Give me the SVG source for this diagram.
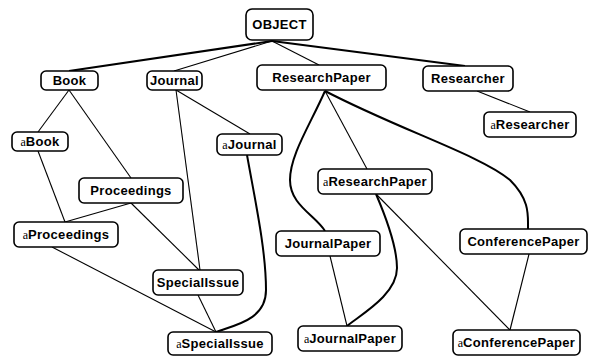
<svg xmlns="http://www.w3.org/2000/svg" width="589" height="356" viewBox="0 0 589 356">
  <style>
    .box { fill: #fff; stroke: #000; stroke-width: 1.6; }
    .lbl { font-family: "Liberation Sans", Arial, sans-serif; font-size: 13px; font-weight: bold; letter-spacing: 0.3px; text-anchor: middle; fill: #000; }
    .pre { font-family: "Liberation Serif", "Times New Roman", serif; font-size: 12px; font-weight: normal; letter-spacing: 0; }
    .thin { fill: none; stroke: #000; stroke-width: 1.1; }
    .thick { fill: none; stroke: #000; stroke-width: 2; }
  </style>
  <rect width="589" height="356" fill="#fff"/>

  <g id="connectors">
    <!-- class hierarchy -->
    <path class="thick" d="M272 41 L69 71" stroke-width="1.5"/>
    <path class="thin" d="M272 41 L174 71" stroke-width="1.3"/>
    <path class="thin" d="M272 41 L319 65"/>
    <path class="thick" d="M272 41 L465 66" stroke-width="1.5"/>
    <path class="thin" d="M69 90 L38 132"/>
    <path class="thin" d="M69 90 L131 178"/>
    <path class="thin" d="M38 151 L65 222"/>
    <path class="thin" d="M131 203 L65 222"/>
    <path class="thin" d="M131 203 L199 270"/>
    <path class="thin" d="M52 247 L216 332"/>
    <path class="thin" d="M176 90 L200 270"/>
    <path class="thin" d="M176 90 L250 134"/>
    <path class="thin" d="M198 295 L216 332"/>
    <!-- instance links -->
    <path class="thick" d="M247 155 C255 200 266 250 266 290 C266 320 235 325 216 332"/>
    <path class="thick" d="M325 91 C310 125 290 155 290 180 C290 205 315 215 325 231"/>
    <path class="thin" d="M325 91 L367 169"/>
    <path class="thick" d="M325 91 C400 130 480 155 510 180 C530 200 528 215 528 229"/>
    <path class="thick" d="M376 194 C385 215 397 245 397 268 C397 295 360 315 347 326"/>
    <path class="thin" d="M376 194 L510 330"/>
    <path class="thin" d="M330 256 L347 326"/>
    <path class="thin" d="M529 254 L510 330"/>
    <path class="thin" d="M477 91 L530 112"/>
  </g>

  <g id="OBJECT"><rect class="box" x="246" y="9" width="67" height="31" rx="6"/><text class="lbl" x="279.5" y="29" font-size="12">OBJECT</text></g>
  <g id="Book"><rect class="box" x="41" y="71" width="57" height="19" rx="5"/><text class="lbl" x="69.5" y="85">Book</text></g>
  <g id="Journal"><rect class="box" x="147" y="71" width="55" height="19" rx="5"/><text class="lbl" x="174.5" y="85">Journal</text></g>
  <g id="ResearchPaper"><rect class="box" x="257" y="65" width="129" height="25" rx="5"/><text class="lbl" x="321.5" y="82">ResearchPaper</text></g>
  <g id="Researcher"><rect class="box" x="423" y="66" width="90" height="25" rx="5"/><text class="lbl" x="468" y="83">Researcher</text></g>
  <g id="aBook"><rect class="box" x="12" y="132" width="56" height="19" rx="5"/><text class="lbl" x="40" y="146"><tspan class="pre">a</tspan>Book</text></g>
  <g id="aJournal"><rect class="box" x="217" y="134" width="65" height="21" rx="5"/><text class="lbl" x="249.5" y="149"><tspan class="pre">a</tspan>Journal</text></g>
  <g id="aResearcher"><rect class="box" x="484" y="112" width="92" height="25" rx="5"/><text class="lbl" x="530" y="129"><tspan class="pre">a</tspan>Researcher</text></g>
  <g id="Proceedings"><rect class="box" x="79" y="178" width="104" height="25" rx="5"/><text class="lbl" x="131" y="195">Proceedings</text></g>
  <g id="aProceedings"><rect class="box" x="14" y="222" width="104" height="25" rx="5"/><text class="lbl" x="66" y="239"><tspan class="pre">a</tspan>Proceedings</text></g>
  <g id="aResearchPaper"><rect class="box" x="318" y="169" width="114" height="25" rx="5"/><text class="lbl" x="375" y="186"><tspan class="pre">a</tspan>ResearchPaper</text></g>
  <g id="JournalPaper"><rect class="box" x="276" y="231" width="104" height="25" rx="5"/><text class="lbl" x="328" y="248">JournalPaper</text></g>
  <g id="ConferencePaper"><rect class="box" x="460" y="229" width="127" height="25" rx="5"/><text class="lbl" x="523.5" y="246">ConferencePaper</text></g>
  <g id="SpecialIssue"><rect class="box" x="153" y="270" width="90" height="25" rx="5"/><text class="lbl" x="198" y="287">SpecialIssue</text></g>
  <g id="aSpecialIssue"><rect class="box" x="168" y="332" width="104" height="23" rx="5"/><text class="lbl" x="220" y="348"><tspan class="pre">a</tspan>SpecialIssue</text></g>
  <g id="aJournalPaper"><rect class="box" x="298" y="326" width="104" height="25" rx="5"/><text class="lbl" x="350" y="343"><tspan class="pre">a</tspan>JournalPaper</text></g>
  <g id="aConferencePaper"><rect class="box" x="453" y="330" width="127" height="25" rx="5"/><text class="lbl" x="516.5" y="347"><tspan class="pre">a</tspan>ConferencePaper</text></g>
</svg>
